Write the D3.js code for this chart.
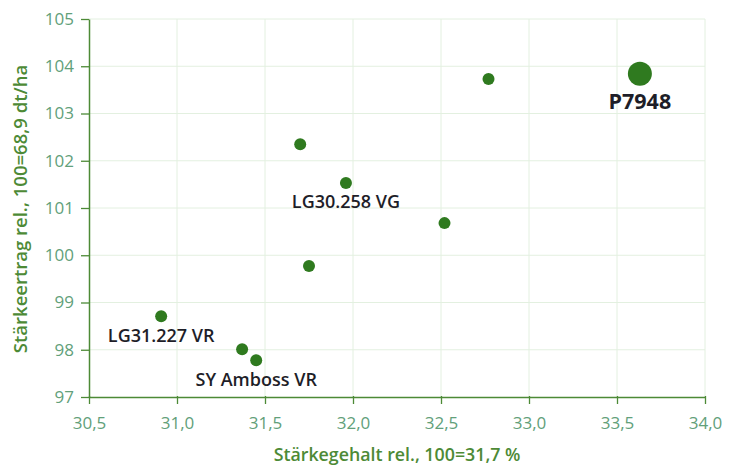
<!DOCTYPE html>
<html><head><meta charset="utf-8">
<script src="https://cdn.jsdelivr.net/npm/d3@7"></script>
<style>body{margin:0;background:#fff;} svg{display:block;}</style>
</head><body>
<svg id="c" width="734" height="465"></svg>
<script>
const names = ["P7948","","","LG30.258 VG","","","LG31.227 VR","","SY Amboss VR"];
const starchContent = [33.63, 32.77, 31.70, 31.96, 32.52, 31.75, 30.91, 31.37, 31.45];
const starchYield = [103.84, 103.73, 102.35, 101.53, 100.68, 99.77, 98.71, 98.01, 97.78];
const isHighlight = [true,false,false,false,false,false,false,false,false];
const xTicks = [30.5,31.0,31.5,32.0,32.5,33.0,33.5,34.0];
const yTicks = [97,98,99,100,101,102,103,104,105];
const xTitle = "Stärkegehalt rel., 100=31,7 %";
const yTitle = "Stärkeertrag rel., 100=68,9 dt/ha";

const svg = d3.select("#c");
const L=89, R=705, T=19, B=397;
const x = d3.scaleLinear().domain([30.5,34.0]).range([L,R]);
const y = d3.scaleLinear().domain([97,105]).range([B,T]);
const font = "'Open Sans', Lato, sans-serif";
const axisCol = "#4d8a36", tickCol = "#62a07a", gridCol = "#e3f0e0", dotCol = "#2f7a1f";

// grid
svg.append("g").selectAll("line.h").data(yTicks.slice(1)).join("line")
  .attr("x1",L).attr("x2",R).attr("y1",d=>y(d)).attr("y2",d=>y(d))
  .attr("stroke",gridCol).attr("stroke-width",1);
svg.append("g").selectAll("line.v").data(xTicks.slice(1)).join("line")
  .attr("x1",d=>x(d)).attr("x2",d=>x(d)).attr("y1",T).attr("y2",B)
  .attr("stroke",gridCol).attr("stroke-width",1);

// axes
const fmt = d=>d.toFixed(1).replace(".",",");
const xa = svg.append("g").attr("transform",`translate(0,${B})`)
  .call(d3.axisBottom(x).tickValues(xTicks).tickFormat(fmt).tickSize(7).tickSizeOuter(0).tickPadding(13));
const ya = svg.append("g").attr("transform",`translate(${L},0)`)
  .call(d3.axisLeft(y).tickValues(yTicks).tickFormat(d3.format("d")).tickSize(8).tickSizeOuter(0).tickPadding(7));
[xa,ya].forEach(a=>{
  a.select(".domain").attr("stroke",axisCol).attr("stroke-width",1.5);
  a.selectAll(".tick line").attr("stroke",axisCol).attr("stroke-width",1.3);
  a.selectAll(".tick text").attr("fill",tickCol).attr("font-family",font).attr("font-size",17);
});
xa.selectAll(".tick line").attr("y1",-1).attr("y2",7);

// titles
svg.append("text").attr("x",397).attr("y",461).attr("text-anchor","middle")
  .attr("fill",axisCol).attr("font-family",font).attr("font-weight",600).attr("font-size",17.8).text(xTitle);
svg.append("text").attr("transform","translate(27,209) rotate(-90)").attr("text-anchor","middle")
  .attr("fill",axisCol).attr("font-family",font).attr("font-weight",600).attr("font-size",18.5).text(yTitle);

// dots
const data = names.map((n,i)=>({n, cx:starchContent[i], cy:starchYield[i], h:isHighlight[i]}));
svg.append("g").selectAll("circle").data(data).join("circle")
  .attr("cx",d=>x(d.cx)).attr("cy",d=>y(d.cy)).attr("r",d=>d.h?12:6).attr("fill",dotCol);

// labels
const labelOffsets = {"P7948":[0,35],"LG30.258 VG":[0,25.5],"LG31.227 VR":[0,26],"SY Amboss VR":[0,26]};
svg.append("g").selectAll("text").data(data.filter(d=>d.n)).join("text")
  .attr("x",d=>x(d.cx)+labelOffsets[d.n][0]).attr("y",d=>y(d.cy)+labelOffsets[d.n][1])
  .attr("text-anchor","middle").attr("fill","#1e1e28").attr("font-family",font)
  .attr("font-weight",d=>d.h?"bold":600).attr("font-size",d=>d.h?21.5:18).text(d=>d.n);
</script>
</body></html>
